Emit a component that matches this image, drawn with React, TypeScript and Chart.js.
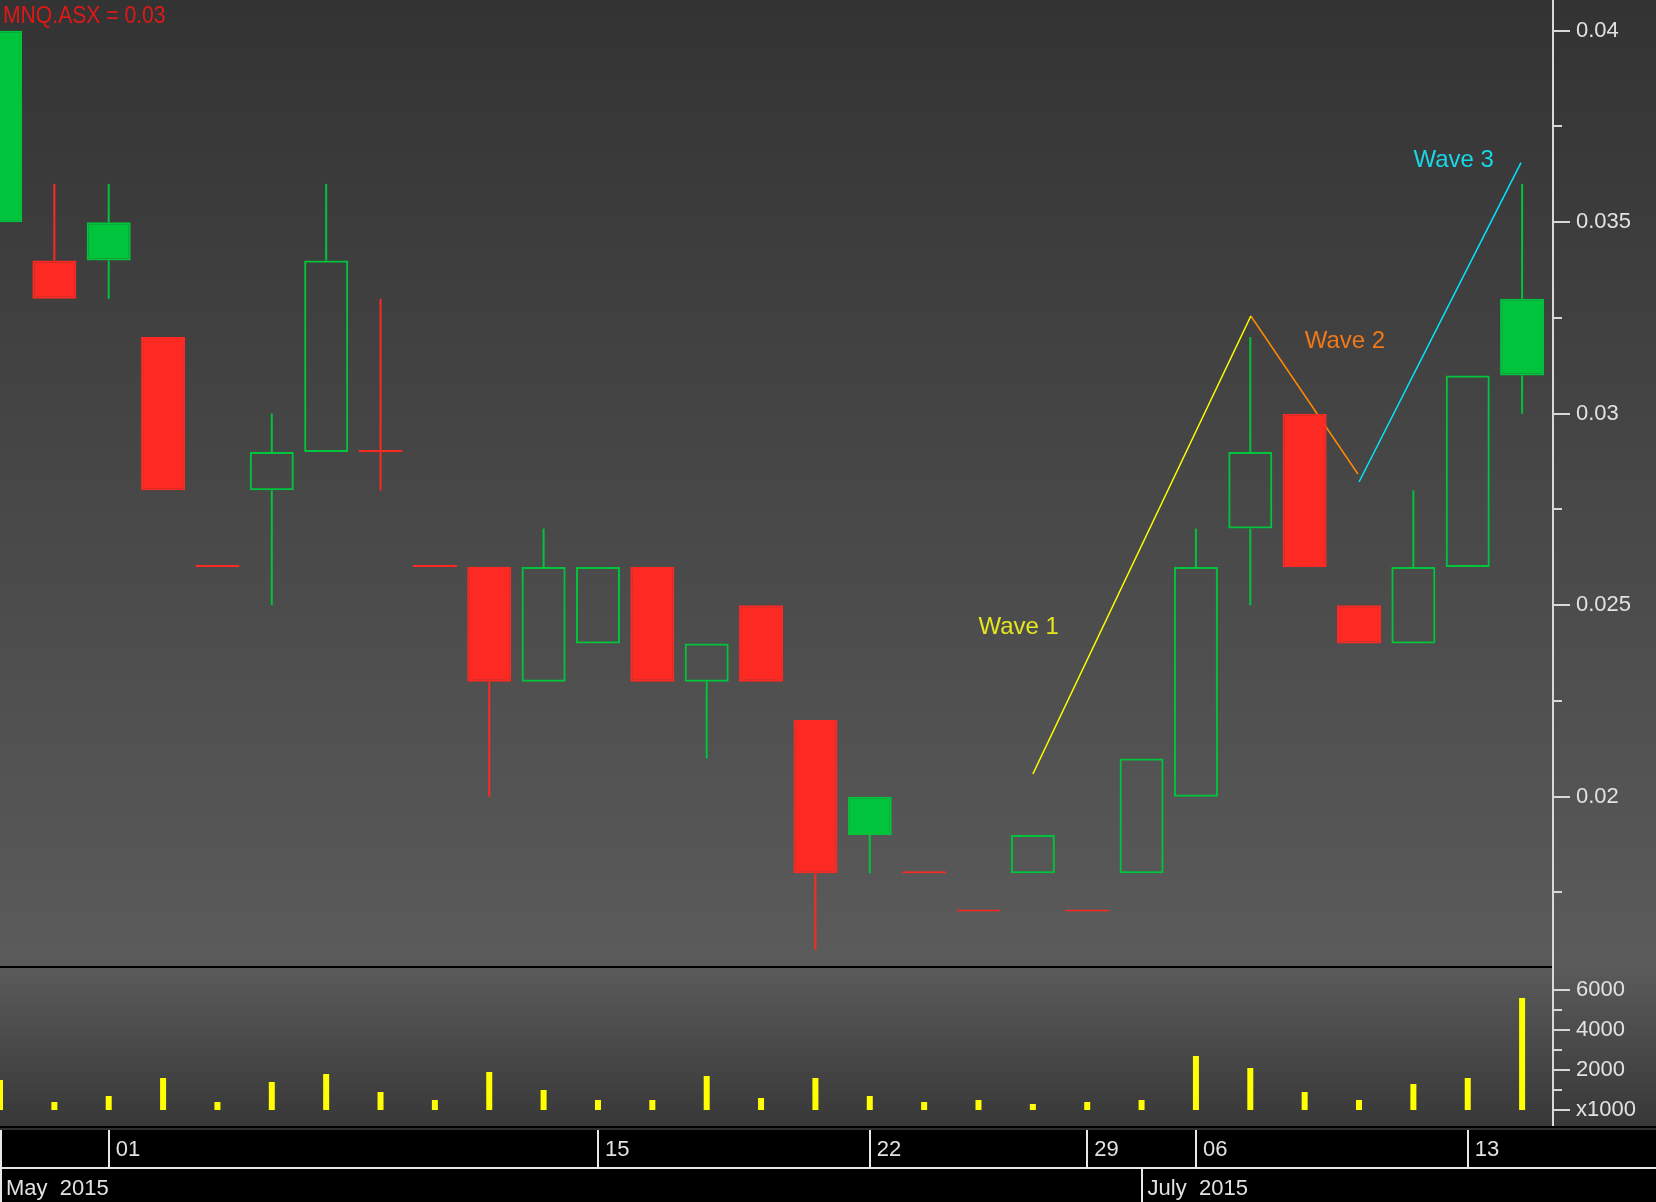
import React, { useEffect, useRef } from 'react';
import { Chart, registerables } from 'chart.js';

Chart.register(...registerables);

const FONT = '"Liberation Sans", Arial, sans-serif';

// ---- data (one entry per trading session, late May -> mid July 2015) ----
const sessions = [0, 1, 2, 3, 4, 5, 6, 7, 8, 9, 10, 11, 12, 13, 14, 15, 16, 17, 18, 19, 20, 21, 22, 23, 24, 25, 26, 27, 28];
const opens = [0.035, 0.034, 0.034, 0.032, 0.026, 0.028, 0.029, 0.029, 0.026, 0.026, 0.023, 0.024, 0.026, 0.023, 0.025, 0.022, 0.019, 0.018, 0.017, 0.018, 0.017, 0.018, 0.020, 0.027, 0.030, 0.025, 0.024, 0.026, 0.031];
const highs = [0.040, 0.036, 0.036, 0.032, 0.026, 0.030, 0.036, 0.033, 0.026, 0.026, 0.027, 0.026, 0.026, 0.024, 0.025, 0.022, 0.020, 0.018, 0.017, 0.019, 0.017, 0.021, 0.027, 0.032, 0.030, 0.025, 0.028, 0.031, 0.036];
const lows = [0.035, 0.033, 0.033, 0.028, 0.026, 0.025, 0.029, 0.028, 0.026, 0.020, 0.023, 0.024, 0.023, 0.021, 0.023, 0.016, 0.018, 0.018, 0.017, 0.018, 0.017, 0.018, 0.020, 0.025, 0.026, 0.024, 0.024, 0.026, 0.030];
const closes = [0.040, 0.033, 0.035, 0.028, 0.026, 0.029, 0.034, 0.029, 0.026, 0.023, 0.026, 0.026, 0.023, 0.024, 0.023, 0.018, 0.020, 0.018, 0.017, 0.019, 0.017, 0.021, 0.026, 0.029, 0.026, 0.024, 0.026, 0.031, 0.033];
const volumes = [1500, 400, 700, 1600, 400, 1400, 1800, 900, 500, 1900, 1000, 500, 500, 1700, 600, 1600, 700, 400, 500, 300, 400, 500, 2700, 2100, 900, 500, 1300, 1600, 5600]; // x1000
const solidUpSessions = [0, 2, 16, 28];

const titleText = 'MNQ.ASX = 0.03';

const priceTickValues = [0.0175, 0.02, 0.0225, 0.025, 0.0275, 0.03, 0.0325, 0.035, 0.0375, 0.04];
const priceTickLabels = ['', '0.02', '', '0.025', '', '0.03', '', '0.035', '', '0.04'];
const volTickValues = [0, 1000, 2000, 3000, 4000, 5000, 6000];
const volTickLabels = ['x1000', '', '2000', '', '4000', '', '6000'];

const dayTickSessions = [2, 11, 16, 20, 22, 27];
const dayTickLabels = ['01', '15', '22', '29', '06', '13'];
const monthTickSessions = [0, 21];
const monthTickLabels = ['May  2015', 'July  2015'];

const wave1 = [{ x: 19.0, y: 0.020593 }, { x: 23.01, y: 0.032551 }];
const wave2 = [{ x: 23.01, y: 0.032551 }, { x: 24.98, y: 0.028426 }];
const wave3 = [{ x: 25.0, y: 0.028217 }, { x: 27.98, y: 0.036554 }];
const waveLabels = ['Wave 1', 'Wave 2', 'Wave 3'];
const waveLabelAt = [{ x: 18.0, y: 0.024248 }, { x: 24.0, y: 0.031715 }, { x: 26.0, y: 0.036441 }];

// ---- view ranges ----
const X_MIN = 0;
const X_MAX = 28.55;
const P_MIN = 0.01558;
const P_MAX = 0.040802;
const V_MIN = -800;
const V_MAX = 7100;

const GREEN = '#00c43c';
const RED = '#fc2a22';
const AXIS = '#d8d8d8';
const LABEL = '#e2e2e2';

function isUp(i: number) {
  if (closes[i] > opens[i]) return true;
  if (closes[i] < opens[i]) return false;
  return i === 0 ? true : closes[i] >= closes[i - 1];
}

export default function App() {
  const priceRef = useRef<HTMLCanvasElement>(null);
  const volRef = useRef<HTMLCanvasElement>(null);

  useEffect(() => {
    document.documentElement.style.overflow = 'hidden';
    document.body.style.margin = '0';
    document.body.style.overflow = 'hidden';

    const colors = sessions.map((i) => (isUp(i) ? GREEN : RED));
    const bodies = sessions.map((i) => ({ x: i, y: [Math.min(opens[i], closes[i]), Math.max(opens[i], closes[i])] }));
    const upperWicks = sessions.map((i) => {
      const top = Math.max(opens[i], closes[i]);
      return { x: i, y: highs[i] > top ? [top, highs[i]] : null };
    });
    const lowerWicks = sessions.map((i) => {
      const bot = Math.min(opens[i], closes[i]);
      return { x: i, y: lows[i] < bot ? [lows[i], bot] : null };
    });
    const bodyFill = sessions.map((i) =>
      isUp(i) ? (solidUpSessions.includes(i) ? GREEN : 'rgba(0,0,0,0)') : RED
    );

    const pricePlugin = {
      id: 'pricePlugin',
      beforeDraw(chart: any) {
        const { ctx, width, height } = chart;
        ctx.save();
        const g = ctx.createLinearGradient(0, 0, 0, 966);
        g.addColorStop(0, '#333333');
        g.addColorStop(1, '#5b5b5b');
        ctx.fillStyle = g;
        ctx.fillRect(0, 0, width, height);
        ctx.restore();
      },
      afterDraw(chart: any) {
        const { ctx, chartArea, scales } = chart;
        const ys = scales.y;
        const xs = scales.x;
        ctx.save();
        ctx.fillStyle = '#000';
        ctx.fillRect(0, chartArea.bottom, chartArea.right, 2);
        ctx.fillStyle = AXIS;
        ctx.fillRect(chartArea.right, 0, 2, chart.height);
        ys.ticks.forEach((t: any, i: number) => {
          const py = Math.round(ys.getPixelForValue(t.value));
          const len = priceTickLabels[i] ? 16 : 8;
          ctx.fillRect(chartArea.right + 2, py - 1, len, 2);
        });
        ctx.restore();

        ctx.save();
        ctx.font = `24px ${FONT}`;
        ctx.fillStyle = '#e01818';
        ctx.textAlign = 'left';
        ctx.textBaseline = 'alphabetic';
        ctx.translate(3, 22.5);
        ctx.scale(0.88, 1);
        ctx.fillText(titleText, 0, 0);
        ctx.restore();

        const waveColors = ['#e6e620', '#f07818', '#18d8e8'];
        ctx.save();
        ctx.font = `24px ${FONT}`;
        ctx.textAlign = 'left';
        ctx.textBaseline = 'alphabetic';
        waveLabels.forEach((txt, i) => {
          ctx.fillStyle = waveColors[i];
          ctx.fillText(txt, xs.getPixelForValue(waveLabelAt[i].x), ys.getPixelForValue(waveLabelAt[i].y));
        });
        ctx.restore();
      },
    };

    const priceChart = new Chart(priceRef.current as HTMLCanvasElement, {
      type: 'bar',
      data: {
        datasets: [
          {
            data: upperWicks as any,
            backgroundColor: colors,
            barThickness: 2,
            grouped: false,
            inflateAmount: 0,
          } as any,
          {
            data: lowerWicks as any,
            backgroundColor: colors,
            barThickness: 2,
            grouped: false,
            inflateAmount: 0,
          } as any,
          {
            data: bodies as any,
            backgroundColor: bodyFill,
            borderColor: colors,
            borderWidth: 2,
            borderSkipped: false,
            barThickness: 44,
            minBarLength: 2,
            grouped: false,
            inflateAmount: 0,
          } as any,
          { type: 'line', data: wave1, borderColor: '#ffff00', borderWidth: 1.5, pointRadius: 0, fill: false } as any,
          { type: 'line', data: wave2, borderColor: '#ff8a00', borderWidth: 1.5, pointRadius: 0, fill: false } as any,
          { type: 'line', data: wave3, borderColor: '#00e8ff', borderWidth: 1.5, pointRadius: 0, fill: false } as any,
        ],
      },
      options: {
        animation: false,
        responsive: false,
        maintainAspectRatio: false,
        devicePixelRatio: 1,
        events: [],
        layout: { padding: { left: 0, right: 0, top: 0, bottom: 2 } },
        plugins: { legend: { display: false }, tooltip: { enabled: false } },
        scales: {
          x: { type: 'linear', min: X_MIN, max: X_MAX, display: false, offset: false },
          y: {
            type: 'linear',
            position: 'right',
            min: P_MIN,
            max: P_MAX,
            grid: { display: false, drawTicks: false },
            border: { display: false },
            ticks: {
              autoSkip: false,
              padding: 24,
              color: LABEL,
              font: { family: FONT, size: 22 },
              callback: (_v: any, idx: number) => priceTickLabels[idx],
            },
            afterBuildTicks: (s: any) => {
              s.ticks = priceTickValues.map((v) => ({ value: v }));
            },
            afterFit: (s: any) => {
              s.width = 104;
              s.paddingTop = 0;
              s.paddingBottom = 0;
            },
          },
        },
      } as any,
      plugins: [pricePlugin],
    });

    const volPlugin = {
      id: 'volPlugin',
      beforeDraw(chart: any) {
        const { ctx, width, height, chartArea } = chart;
        ctx.save();
        const g = ctx.createLinearGradient(0, 0, 0, chartArea.bottom);
        g.addColorStop(0, '#5a5a5a');
        g.addColorStop(1, '#383838');
        ctx.fillStyle = g;
        ctx.fillRect(0, 0, width, chartArea.bottom);
        ctx.fillStyle = '#000';
        ctx.fillRect(0, chartArea.bottom, width, height - chartArea.bottom);
        ctx.fillStyle = '#2e2e2e';
        ctx.fillRect(0, chartArea.bottom + 2, width, 2);
        ctx.fillStyle = '#000';
        ctx.fillRect(0, chartArea.bottom + 4, width, height - chartArea.bottom - 4);
        ctx.restore();
      },
      afterDraw(chart: any) {
        const { ctx, chartArea, scales } = chart;
        const ys = scales.y;
        const xs = scales.x;
        ctx.save();
        ctx.fillStyle = AXIS;
        ctx.fillRect(chartArea.right, 0, 2, chartArea.bottom);
        ys.ticks.forEach((t: any, i: number) => {
          const py = Math.round(ys.getPixelForValue(t.value));
          const len = volTickLabels[i] ? 16 : 8;
          ctx.fillRect(chartArea.right + 2, py - 1, len, 2);
        });
        const dayTop = chartArea.bottom + 4;
        const split = scales.xMonths.top;
        ctx.fillStyle = '#e8e8e8';
        ctx.fillRect(0, split - 1, chart.width, 2);
        ctx.fillRect(0, dayTop, 2, chart.height - dayTop);
        dayTickSessions.forEach((s) => {
          const px = Math.round(xs.getPixelForValue(s));
          ctx.fillRect(px - 1, dayTop, 2, split - 1 - dayTop);
        });
        monthTickSessions.forEach((s) => {
          const px = Math.round(xs.getPixelForValue(s));
          if (px > 2) ctx.fillRect(px - 1, split, 2, chart.height - split);
        });
        ctx.restore();
      },
    };

    const volChart = new Chart(volRef.current as HTMLCanvasElement, {
      type: 'bar',
      data: {
        datasets: [
          {
            data: sessions.map((i) => ({ x: i, y: volumes[i] })) as any,
            backgroundColor: '#ffff00',
            barThickness: 6,
            grouped: false,
            inflateAmount: 0,
          } as any,
        ],
      },
      options: {
        animation: false,
        responsive: false,
        maintainAspectRatio: false,
        devicePixelRatio: 1,
        events: [],
        layout: { padding: 0 },
        plugins: { legend: { display: false }, tooltip: { enabled: false } },
        scales: {
          x: { type: 'linear', min: X_MIN, max: X_MAX, display: false, offset: false },
          xDays: {
            type: 'linear',
            axis: 'x',
            position: 'bottom',
            weight: 1,
            min: X_MIN,
            max: X_MAX,
            offset: false,
            grid: { display: false, drawTicks: false },
            border: { display: false },
            ticks: {
              autoSkip: false,
              maxRotation: 0,
              minRotation: 0,
              align: 'start',
              labelOffset: 7,
              padding: 11,
              color: LABEL,
              font: { family: FONT, size: 22 },
              callback: (_v: any, idx: number) => dayTickLabels[idx],
            },
            afterBuildTicks: (s: any) => {
              s.ticks = dayTickSessions.map((v) => ({ value: v }));
            },
            afterFit: (s: any) => {
              s.height = 42;
              s.paddingLeft = 0;
              s.paddingRight = 0;
            },
          },
          xMonths: {
            type: 'linear',
            axis: 'x',
            position: 'bottom',
            weight: 2,
            min: X_MIN,
            max: X_MAX,
            offset: false,
            grid: { display: false, drawTicks: false },
            border: { display: false },
            ticks: {
              autoSkip: false,
              maxRotation: 0,
              minRotation: 0,
              align: 'start',
              labelOffset: 6,
              padding: 8,
              color: LABEL,
              font: { family: FONT, size: 22 },
              callback: (_v: any, idx: number) => monthTickLabels[idx],
            },
            afterBuildTicks: (s: any) => {
              s.ticks = monthTickSessions.map((v) => ({ value: v }));
            },
            afterFit: (s: any) => {
              s.height = 34;
              s.paddingLeft = 0;
              s.paddingRight = 0;
            },
          },
          y: {
            type: 'linear',
            position: 'right',
            min: V_MIN,
            max: V_MAX,
            grid: { display: false, drawTicks: false },
            border: { display: false },
            ticks: {
              autoSkip: false,
              padding: 24,
              color: LABEL,
              font: { family: FONT, size: 22 },
              callback: (_v: any, idx: number) => volTickLabels[idx],
            },
            afterBuildTicks: (s: any) => {
              s.ticks = volTickValues.map((v) => ({ value: v }));
            },
            afterFit: (s: any) => {
              s.width = 104;
              s.paddingTop = 0;
              s.paddingBottom = 0;
            },
          },
        },
      } as any,
      plugins: [volPlugin],
    });

    return () => {
      priceChart.destroy();
      volChart.destroy();
    };
  }, []);

  return (
    <div style={{ position: 'absolute', left: 0, top: 0, width: 1656, height: 1202, background: '#000', overflow: 'hidden' }}>
      <canvas
        ref={priceRef}
        width={1656}
        height={968}
        style={{ position: 'absolute', left: 0, top: 0, width: 1656, height: 968 }}
      />
      <canvas
        ref={volRef}
        width={1656}
        height={234}
        style={{ position: 'absolute', left: 0, top: 968, width: 1656, height: 234 }}
      />
    </div>
  );
}
